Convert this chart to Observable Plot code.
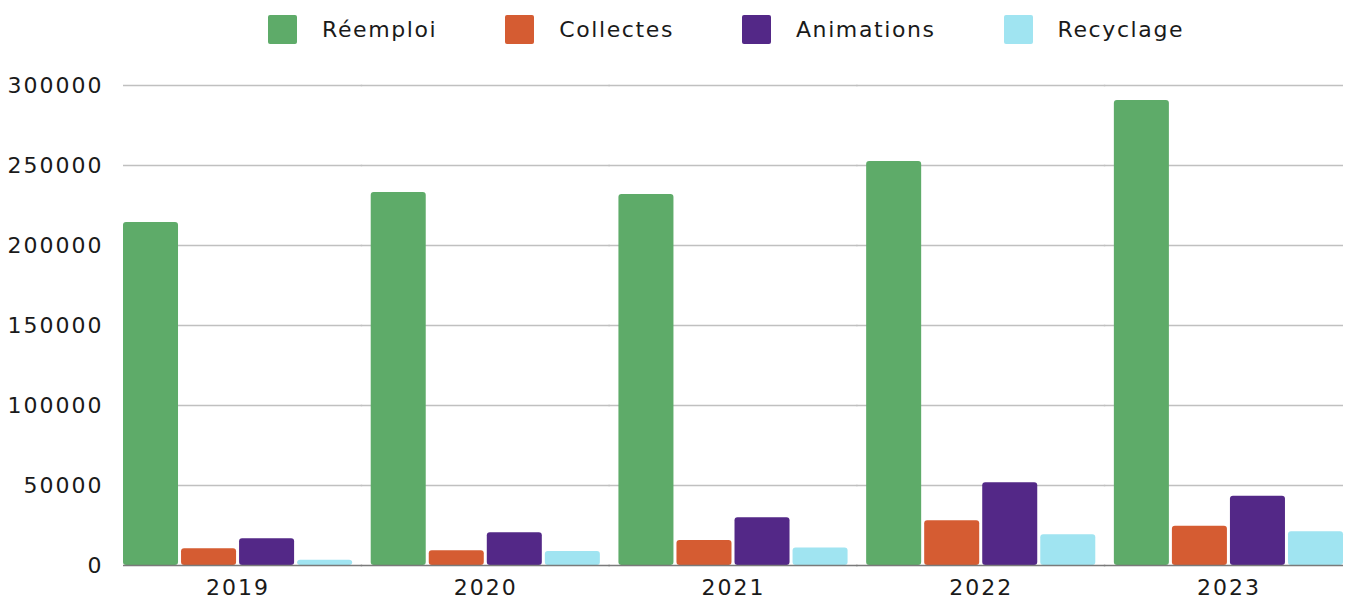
<!DOCTYPE html>
<html>
<head>
<meta charset="utf-8">
<script src="https://cdn.jsdelivr.net/npm/d3@7"></script>
<script src="https://cdn.jsdelivr.net/npm/@observablehq/plot@0.6"></script>
<style>
  body { margin: 0; background: #fff; font-family: "DejaVu Sans", sans-serif; color: #1a1a1a; }
  #legend { height: 56px; display: flex; align-items: center; padding-left: 268px; padding-top: 2px; box-sizing: border-box; font-size: 22px; letter-spacing: 1.6px; }
  .item { display: flex; align-items: center; margin-right: 68px; }
  .sw { width: 29px; height: 29px; border-radius: 2px; margin-right: 25px; }
  #chart text { letter-spacing: 2px; }
</style>
</head>
<body>
<div id="legend"></div>
<div id="chart"></div>
<script>
const years = ["2019", "2020", "2021", "2022", "2023"];
const series = ["Réemploi", "Collectes", "Animations", "Recyclage"];
const colors = ["#5eab69", "#d55c32", "#532887", "#a0e4f1"];
const reemploi = [214400, 233100, 231900, 252500, 290600];
const collectes = [10400, 9200, 15600, 27900, 24600];
const animations = [16700, 20400, 29800, 51700, 43300];
const recyclage = [3300, 8800, 11000, 19200, 21100];
const yTicks = [0, 50000, 100000, 150000, 200000, 250000, 300000];

const valuesBySeries = [reemploi, collectes, animations, recyclage];
const data = [];
years.forEach((year, i) => {
  series.forEach((s, j) => data.push({year, series: s, value: valuesBySeries[j][i]}));
});

// grid rows per facet (so lines can be joined across the gaps between groups)
const gridRows = (ticks, ys) => ys.flatMap(year => ticks.map(v => ({year, v})));
const first = [years[0]], middle = years.slice(1, -1), last = [years[years.length - 1]];
const gap = -10;
const gridMarks = (ticks, opts) => [
  Plot.ruleY(gridRows(ticks, first), {fx: "year", y: "v", insetRight: gap, ...opts}),
  Plot.ruleY(gridRows(ticks, middle), {fx: "year", y: "v", insetLeft: gap, insetRight: gap, ...opts}),
  Plot.ruleY(gridRows(ticks, last), {fx: "year", y: "v", insetLeft: gap, ...opts})
];

const legend = document.getElementById("legend");
series.forEach((s, j) => {
  const it = document.createElement("div");
  it.className = "item";
  const sw = document.createElement("div");
  sw.className = "sw";
  sw.style.background = colors[j];
  const t = document.createElement("span");
  t.textContent = s;
  it.appendChild(sw);
  it.appendChild(t);
  legend.appendChild(it);
});

const chart = Plot.plot({
  width: 1346,
  height: 544,
  marginTop: 29,
  marginBottom: 35,
  marginLeft: 123,
  marginRight: 3,
  style: {fontSize: "22px", fontFamily: "DejaVu Sans, sans-serif", color: "#1a1a1a", background: "#fff", overflow: "visible"},
  fx: {domain: years, paddingInner: 0.075, paddingOuter: 0, round: false, axis: "bottom", label: null, tickSize: 0, tickPadding: 14},
  x: {domain: series, paddingInner: 0.052, paddingOuter: 0, round: false, axis: null},
  y: {domain: [0, 300000], ticks: yTicks, tickFormat: "d", tickSize: 0, tickPadding: 20, label: null},
  color: {domain: series, range: colors},
  marks: [
    ...gridMarks(yTicks.slice(1), {stroke: "#c0c0c0", strokeWidth: 1.6}),
    Plot.barY(data, {fx: "year", x: "series", y: "value", fill: "series", rx: 3}),
    ...gridMarks([0], {stroke: "#7a7a7a", strokeWidth: 1.6})
  ]
});
document.getElementById("chart").appendChild(chart);
</script>
</body>
</html>
